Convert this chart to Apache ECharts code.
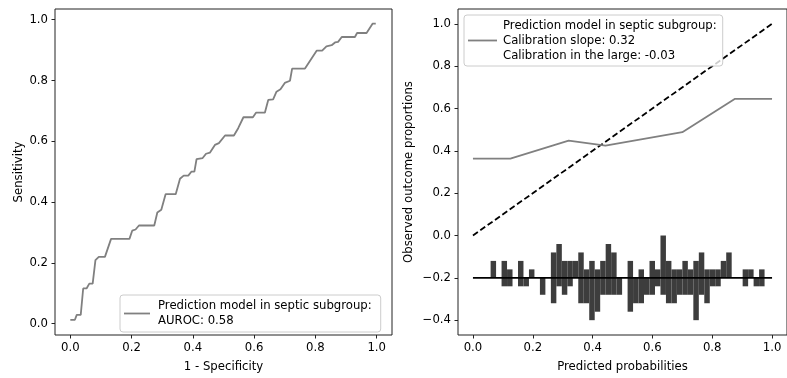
<!DOCTYPE html>
<html>
<head>
<meta charset="utf-8">
<script src="https://cdn.jsdelivr.net/npm/echarts@6/dist/echarts.min.js"></script>
<style>
  html, body { margin: 0; padding: 0; background: #fff; }
  #chart { width: 787px; height: 378px; }
</style>
</head>
<body>
<div id="chart"></div>
<script>
// ROC curve of the septic-subgroup model: [1 - specificity, sensitivity]
const rocPoints = [
  [0.0, 0.013], [0.015, 0.013], [0.021, 0.029], [0.034, 0.029], [0.042, 0.116],
  [0.053, 0.116], [0.062, 0.132], [0.073, 0.132], [0.082, 0.209], [0.093, 0.22],
  [0.113, 0.22], [0.133, 0.279], [0.193, 0.279], [0.202, 0.306], [0.213, 0.31],
  [0.224, 0.323], [0.274, 0.323], [0.284, 0.366], [0.297, 0.375], [0.311, 0.426],
  [0.344, 0.426], [0.358, 0.477], [0.37, 0.487], [0.385, 0.487], [0.395, 0.5],
  [0.405, 0.5], [0.412, 0.541], [0.432, 0.545], [0.443, 0.559], [0.456, 0.563],
  [0.472, 0.588], [0.485, 0.594], [0.505, 0.619], [0.534, 0.619], [0.548, 0.643],
  [0.565, 0.679], [0.596, 0.679], [0.606, 0.694], [0.635, 0.694], [0.646, 0.736],
  [0.662, 0.738], [0.673, 0.763], [0.686, 0.771], [0.70, 0.792], [0.717, 0.799],
  [0.724, 0.839], [0.766, 0.839], [0.804, 0.898], [0.822, 0.898], [0.836, 0.912],
  [0.853, 0.916], [0.864, 0.925], [0.874, 0.927], [0.886, 0.943], [0.929, 0.943],
  [0.936, 0.956], [0.967, 0.956], [0.987, 0.987], [0.997, 0.987]
];

// Calibration curve: [predicted probability, observed outcome proportion]
const calibrationPoints = [
  [0.0, 0.363], [0.125, 0.363], [0.32, 0.448], [0.443, 0.425],
  [0.70, 0.488], [0.875, 0.645], [1.0, 0.645]
];

// Perfect calibration reference
const idealPoints = [[0, 0], [1, 1]];

// Distribution of predicted probabilities, 50 equal bins over histRange:
// events drawn above the baseline, non-events below it
const histRange = [0.059, 0.975];
const eventCounts = [
  2, 0, 2, 1, 0, 2, 0, 1, 0, 0,
  0, 3, 4, 2, 2, 2, 3, 1, 2, 1,
  2, 4, 3, 0, 0, 2, 0, 1, 0, 2,
  1, 5, 2, 1, 1, 2, 1, 2, 3, 1,
  1, 1, 2, 3, 0, 0, 1, 1, 0, 1
];
const nonEventCounts = [
  0, 0, 1, 1, 0, 1, 1, 0, 0, 2,
  0, 3, 1, 2, 1, 0, 3, 3, 5, 4,
  2, 2, 2, 2, 0, 4, 3, 3, 2, 2,
  1, 2, 3, 3, 2, 2, 2, 5, 2, 3,
  1, 1, 0, 0, 0, 0, 1, 0, 1, 1
];
const histBaseline = -0.2;
const countScale = 0.04;

// Tick labels
const unitTicks = [0, 0.2, 0.4, 0.6, 0.8, 1.0];
const calibYTicks = [-0.4, -0.2, 0, 0.2, 0.4, 0.6, 0.8, 1.0];

const rocName = 'Prediction model in septic subgroup:\nAUROC: 0.58';
const calName = 'Prediction model in septic subgroup:\nCalibration slope: 0.32\nCalibration in the large: -0.03';

// ---- build histogram rectangles ----
const binW = (histRange[1] - histRange[0]) / eventCounts.length;
const histData = [];
eventCounts.forEach((c, i) => {
  if (c > 0) histData.push([histRange[0] + i * binW, histRange[0] + (i + 1) * binW, histBaseline + c * countScale]);
});
nonEventCounts.forEach((c, i) => {
  if (c > 0) histData.push([histRange[0] + i * binW, histRange[0] + (i + 1) * binW, histBaseline - c * countScale]);
});

const FONT = 'DejaVu Sans';
const FS = 11.7;
const fmt = v => (v < -1e-9 ? '\u2212' : '') + Math.abs(v).toFixed(1);

function valueAxis(gridIndex, min, max, ticks, name, nameGap) {
  return {
    type: 'value', gridIndex, min, max, name, nameGap,
    nameLocation: 'middle',
    nameTextStyle: { fontFamily: FONT, fontSize: FS, color: '#000' },
    axisLine: { show: false, onZero: false },
    splitLine: { show: false },
    axisTick: { show: true, length: 3.5, customValues: ticks, lineStyle: { color: '#222', width: 1 } },
    axisLabel: { customValues: ticks, formatter: fmt, margin: 7, fontFamily: FONT, fontSize: FS, color: '#000' }
  };
}

const legendBase = {
  orient: 'vertical', selectedMode: false,
  icon: 'rect', itemHeight: 1.8,
  backgroundColor: 'rgba(255,255,255,0.8)', borderColor: '#cccccc', borderWidth: 1, borderRadius: 3
};

const chart = echarts.init(document.getElementById('chart'), null, { renderer: 'canvas' });
chart.setOption({
  animation: false,
  backgroundColor: '#fff',
  grid: [
    { left: 55, top: 9, width: 337, height: 327, show: true, borderColor: '#222', borderWidth: 1, backgroundColor: 'transparent' },
    { left: 458, top: 9, width: 335, height: 327, show: true, borderColor: '#222', borderWidth: 1, backgroundColor: 'transparent' }
  ],
  xAxis: [
    valueAxis(0, -0.05, 1.05, unitTicks, '1 - Specificity', 26),
    valueAxis(1, -0.05, 1.05, unitTicks, 'Predicted probabilities', 26)
  ],
  yAxis: [
    valueAxis(0, -0.037, 1.035, unitTicks, 'Sensitivity', 30),
    valueAxis(1, -0.47, 1.07, calibYTicks, 'Observed outcome proportions', 43)
  ],
  legend: [
    Object.assign({}, legendBase, {
      data: [rocName], left: 120, top: 295, itemWidth: 26,
      padding: [4, 9, 4, 4],
      textStyle: { fontFamily: FONT, fontSize: FS, color: '#000', lineHeight: 14.5, padding: [0, 0, 0, 3] }
    }),
    Object.assign({}, legendBase, {
      data: [calName], left: 464, top: 15, itemWidth: 29,
      padding: [3, 6, 3, 4],
      textStyle: { fontFamily: FONT, fontSize: FS, color: '#000', lineHeight: 15, padding: [0, 0, 0, 1] }
    })
  ],
  series: [
    {
      name: rocName, type: 'line', xAxisIndex: 0, yAxisIndex: 0,
      data: rocPoints, symbol: 'none', showSymbol: false,
      lineStyle: { color: '#808080', width: 1.8 }, itemStyle: { color: '#808080' }
    },
    {
      name: 'histogram', type: 'custom', xAxisIndex: 1, yAxisIndex: 1,
      data: histData, encode: { x: [0, 1], y: 2 },
      renderItem: (params, api) => {
        const p0 = api.coord([api.value(0), histBaseline]);
        const p1 = api.coord([api.value(1), api.value(2)]);
        return {
          type: 'rect',
          shape: { x: p0[0], y: Math.min(p0[1], p1[1]), width: p1[0] - p0[0], height: Math.abs(p1[1] - p0[1]) },
          style: { fill: '#3d3d3d' }
        };
      },
      z: 1
    },
    {
      name: 'baseline', type: 'line', xAxisIndex: 1, yAxisIndex: 1,
      data: [[0, histBaseline], [1, histBaseline]], symbol: 'none',
      lineStyle: { color: '#000', width: 1.6 }, z: 3
    },
    {
      name: 'ideal', type: 'line', xAxisIndex: 1, yAxisIndex: 1,
      data: idealPoints, symbol: 'none',
      lineStyle: { color: '#000', width: 1.8, type: [6, 3] }, z: 3
    },
    {
      name: calName, type: 'line', xAxisIndex: 1, yAxisIndex: 1,
      data: calibrationPoints, symbol: 'none', showSymbol: false,
      lineStyle: { color: '#808080', width: 1.8 }, itemStyle: { color: '#808080' }, z: 4
    }
  ]
});
</script>
</body>
</html>
